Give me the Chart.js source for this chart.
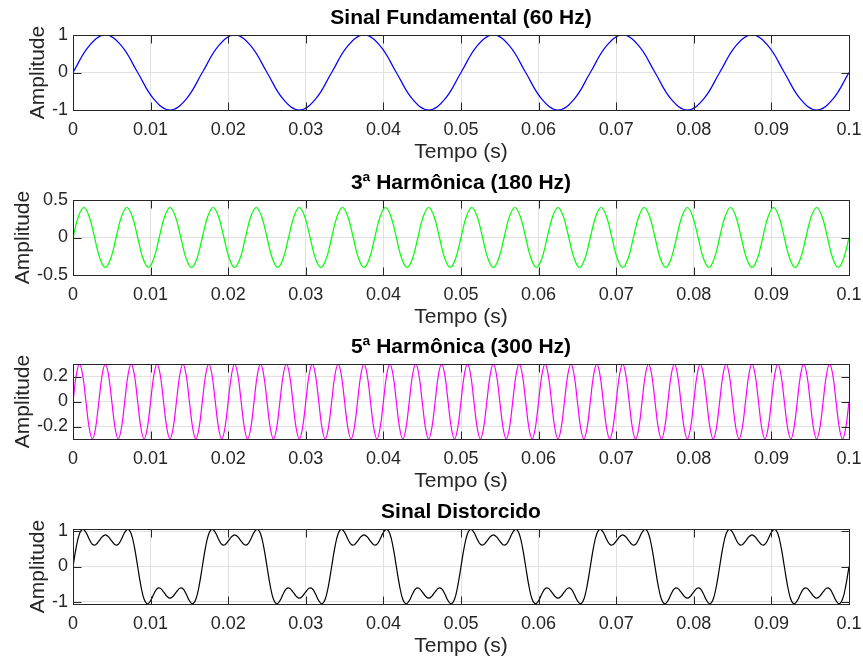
<!DOCTYPE html>
<html>
<head>
<meta charset="utf-8">
<script src="https://cdn.jsdelivr.net/npm/chart.js@4.4.1/dist/chart.umd.min.js"></script>
<style>
  html, body { margin: 0; padding: 0; background: #ffffff; }
  body { width: 863px; height: 661px; position: relative; overflow: hidden; }
  .panel { position: absolute; left: 0; width: 863px; height: 165px; }
  canvas { display: block; }
</style>
</head>
<body>
<div class="panel" style="top:0px"><canvas id="c1" width="863" height="165"></canvas></div>
<div class="panel" style="top:165px"><canvas id="c2" width="863" height="165"></canvas></div>
<div class="panel" style="top:329px"><canvas id="c3" width="863" height="165"></canvas></div>
<div class="panel" style="top:494px"><canvas id="c4" width="863" height="165"></canvas></div>
<script>
// ---------------- DATA ----------------
const titles = ['Sinal Fundamental (60 Hz)', '3ª Harmônica (180 Hz)', '5ª Harmônica (300 Hz)', 'Sinal Distorcido'];
const xAxisLabel = 'Tempo (s)';
const yAxisLabel = 'Amplitude';

const xTickValues = [0, 0.01, 0.02, 0.03, 0.04, 0.05, 0.06, 0.07, 0.08, 0.09, 0.1];
const xTickLabels = ['0', '0.01', '0.02', '0.03', '0.04', '0.05', '0.06', '0.07', '0.08', '0.09', '0.1'];

const fundamentalYTicks = [-1, 0, 1];
const fundamentalYLabels = ['-1', '0', '1'];
const thirdYTicks = [-0.5, 0, 0.5];
const thirdYLabels = ['-0.5', '0', '0.5'];
const fifthYTicks = [-0.2, 0, 0.2];
const fifthYLabels = ['-0.2', '0', '0.2'];
const distortedYTicks = [-1, 0, 1];
const distortedYLabels = ['-1', '0', '1'];

const yLimits = [[-1, 1], [-0.5, 0.5], [-0.3, 0.3], [-1.065, 1.065]];

// sample spacing (s) of each series
const fundamentalStep = 0.1 / 48;
const thirdStep = 0.1 / 144;
const fifthStep = 0.1 / 240;
const distortedStep = 0.1 / 240;

const fundamentalValues = [
  0, 0.71, 1, 0.71, 0, -0.71, -1, -0.71,
  0, 0.71, 1, 0.71, 0, -0.71, -1, -0.71,
  0, 0.71, 1, 0.71, 0, -0.71, -1, -0.71,
  0, 0.71, 1, 0.71, 0, -0.71, -1, -0.71,
  0, 0.71, 1, 0.71, 0, -0.71, -1, -0.71,
  0, 0.71, 1, 0.71, 0, -0.71, -1, -0.71,
  0
];

const thirdValues = [
  0, 0.28, 0.4, 0.28, 0, -0.28, -0.4, -0.28,
  0, 0.28, 0.4, 0.28, 0, -0.28, -0.4, -0.28,
  0, 0.28, 0.4, 0.28, 0, -0.28, -0.4, -0.28,
  0, 0.28, 0.4, 0.28, 0, -0.28, -0.4, -0.28,
  0, 0.28, 0.4, 0.28, 0, -0.28, -0.4, -0.28,
  0, 0.28, 0.4, 0.28, 0, -0.28, -0.4, -0.28,
  0, 0.28, 0.4, 0.28, 0, -0.28, -0.4, -0.28,
  0, 0.28, 0.4, 0.28, 0, -0.28, -0.4, -0.28,
  0, 0.28, 0.4, 0.28, 0, -0.28, -0.4, -0.28,
  0, 0.28, 0.4, 0.28, 0, -0.28, -0.4, -0.28,
  0, 0.28, 0.4, 0.28, 0, -0.28, -0.4, -0.28,
  0, 0.28, 0.4, 0.28, 0, -0.28, -0.4, -0.28,
  0, 0.28, 0.4, 0.28, 0, -0.28, -0.4, -0.28,
  0, 0.28, 0.4, 0.28, 0, -0.28, -0.4, -0.28,
  0, 0.28, 0.4, 0.28, 0, -0.28, -0.4, -0.28,
  0, 0.28, 0.4, 0.28, 0, -0.28, -0.4, -0.28,
  0, 0.28, 0.4, 0.28, 0, -0.28, -0.4, -0.28,
  0, 0.28, 0.4, 0.28, 0, -0.28, -0.4, -0.28,
  0
];

const fifthValues = [
  0, 0.21, 0.3, 0.21, 0, -0.21, -0.3, -0.21,
  0, 0.21, 0.3, 0.21, 0, -0.21, -0.3, -0.21,
  0, 0.21, 0.3, 0.21, 0, -0.21, -0.3, -0.21,
  0, 0.21, 0.3, 0.21, 0, -0.21, -0.3, -0.21,
  0, 0.21, 0.3, 0.21, 0, -0.21, -0.3, -0.21,
  0, 0.21, 0.3, 0.21, 0, -0.21, -0.3, -0.21,
  0, 0.21, 0.3, 0.21, 0, -0.21, -0.3, -0.21,
  0, 0.21, 0.3, 0.21, 0, -0.21, -0.3, -0.21,
  0, 0.21, 0.3, 0.21, 0, -0.21, -0.3, -0.21,
  0, 0.21, 0.3, 0.21, 0, -0.21, -0.3, -0.21,
  0, 0.21, 0.3, 0.21, 0, -0.21, -0.3, -0.21,
  0, 0.21, 0.3, 0.21, 0, -0.21, -0.3, -0.21,
  0, 0.21, 0.3, 0.21, 0, -0.21, -0.3, -0.21,
  0, 0.21, 0.3, 0.21, 0, -0.21, -0.3, -0.21,
  0, 0.21, 0.3, 0.21, 0, -0.21, -0.3, -0.21,
  0, 0.21, 0.3, 0.21, 0, -0.21, -0.3, -0.21,
  0, 0.21, 0.3, 0.21, 0, -0.21, -0.3, -0.21,
  0, 0.21, 0.3, 0.21, 0, -0.21, -0.3, -0.21,
  0, 0.21, 0.3, 0.21, 0, -0.21, -0.3, -0.21,
  0, 0.21, 0.3, 0.21, 0, -0.21, -0.3, -0.21,
  0, 0.21, 0.3, 0.21, 0, -0.21, -0.3, -0.21,
  0, 0.21, 0.3, 0.21, 0, -0.21, -0.3, -0.21,
  0, 0.21, 0.3, 0.21, 0, -0.21, -0.3, -0.21,
  0, 0.21, 0.3, 0.21, 0, -0.21, -0.3, -0.21,
  0, 0.21, 0.3, 0.21, 0, -0.21, -0.3, -0.21,
  0, 0.21, 0.3, 0.21, 0, -0.21, -0.3, -0.21,
  0, 0.21, 0.3, 0.21, 0, -0.21, -0.3, -0.21,
  0, 0.21, 0.3, 0.21, 0, -0.21, -0.3, -0.21,
  0, 0.21, 0.3, 0.21, 0, -0.21, -0.3, -0.21,
  0, 0.21, 0.3, 0.21, 0, -0.21, -0.3, -0.21,
  0
];

const distortedValues = [
  0, 0.55, 0.93, 1.06, 0.97, 0.78, 0.63, 0.62, 0.72, 0.84, 0.9, 0.84, 0.72, 0.62, 0.63, 0.78, 0.97, 1.06, 0.93, 0.55,
  0, -0.55, -0.93, -1.06, -0.97, -0.78, -0.63, -0.62, -0.72, -0.84, -0.9, -0.84, -0.72, -0.62, -0.63, -0.78, -0.97, -1.06, -0.93, -0.55,
  0, 0.55, 0.93, 1.06, 0.97, 0.78, 0.63, 0.62, 0.72, 0.84, 0.9, 0.84, 0.72, 0.62, 0.63, 0.78, 0.97, 1.06, 0.93, 0.55,
  0, -0.55, -0.93, -1.06, -0.97, -0.78, -0.63, -0.62, -0.72, -0.84, -0.9, -0.84, -0.72, -0.62, -0.63, -0.78, -0.97, -1.06, -0.93, -0.55,
  0, 0.55, 0.93, 1.06, 0.97, 0.78, 0.63, 0.62, 0.72, 0.84, 0.9, 0.84, 0.72, 0.62, 0.63, 0.78, 0.97, 1.06, 0.93, 0.55,
  0, -0.55, -0.93, -1.06, -0.97, -0.78, -0.63, -0.62, -0.72, -0.84, -0.9, -0.84, -0.72, -0.62, -0.63, -0.78, -0.97, -1.06, -0.93, -0.55,
  0, 0.55, 0.93, 1.06, 0.97, 0.78, 0.63, 0.62, 0.72, 0.84, 0.9, 0.84, 0.72, 0.62, 0.63, 0.78, 0.97, 1.06, 0.93, 0.55,
  0, -0.55, -0.93, -1.06, -0.97, -0.78, -0.63, -0.62, -0.72, -0.84, -0.9, -0.84, -0.72, -0.62, -0.63, -0.78, -0.97, -1.06, -0.93, -0.55,
  0, 0.55, 0.93, 1.06, 0.97, 0.78, 0.63, 0.62, 0.72, 0.84, 0.9, 0.84, 0.72, 0.62, 0.63, 0.78, 0.97, 1.06, 0.93, 0.55,
  0, -0.55, -0.93, -1.06, -0.97, -0.78, -0.63, -0.62, -0.72, -0.84, -0.9, -0.84, -0.72, -0.62, -0.63, -0.78, -0.97, -1.06, -0.93, -0.55,
  0, 0.55, 0.93, 1.06, 0.97, 0.78, 0.63, 0.62, 0.72, 0.84, 0.9, 0.84, 0.72, 0.62, 0.63, 0.78, 0.97, 1.06, 0.93, 0.55,
  0, -0.55, -0.93, -1.06, -0.97, -0.78, -0.63, -0.62, -0.72, -0.84, -0.9, -0.84, -0.72, -0.62, -0.63, -0.78, -0.97, -1.06, -0.93, -0.55,
  0
];

// ---------------- STYLE ----------------
const FONT = '"Liberation Sans", Arial, Helvetica, sans-serif';
const AXIS_COLOR = '#262626';
const GRID_COLOR = '#e1e1e1';
const TICK_LEN = 8;

// centre the title over the plot box (as MATLAB does) instead of the canvas
const titleCenterPlugin = {
  id: 'titleOverPlot',
  afterLayout(chart) {
    const tb = chart.titleBlock;
    if (tb) {
      tb.left = chart.chartArea.left;
      tb.right = chart.chartArea.right;
      tb.width = tb.right - tb.left;
    }
  }
};

const boxPlugin = {
  id: 'matlabBox',
  afterDatasetsDraw(chart) {
    const { ctx, chartArea: a, scales } = chart;
    const xs = scales.x, ys = scales.y;
    const L = Math.round(a.left) + 0.5, R = Math.round(a.right) + 0.5;
    const T = Math.round(a.top) + 0.5, B = Math.round(a.bottom) + 0.5;
    ctx.save();
    ctx.strokeStyle = AXIS_COLOR;
    ctx.lineWidth = 1;
    ctx.beginPath();
    xs.ticks.forEach(t => {
      const px = Math.round(xs.getPixelForValue(t.value)) + 0.5;
      ctx.moveTo(px, B); ctx.lineTo(px, B - TICK_LEN);
      ctx.moveTo(px, T); ctx.lineTo(px, T + TICK_LEN);
    });
    ys.ticks.forEach(t => {
      const py = Math.round(ys.getPixelForValue(t.value)) + 0.5;
      ctx.moveTo(L, py); ctx.lineTo(L + TICK_LEN, py);
      ctx.moveTo(R, py); ctx.lineTo(R - TICK_LEN, py);
    });
    ctx.stroke();
    ctx.strokeRect(L, T, R - L, B - T);
    ctx.restore();
  }
};

function toPoints(values, step) {
  return values.map((v, i) => ({ x: i * step, y: v }));
}

function makeChart(id, title, values, step, color, limits, yTicks, yLabels, yTitlePad) {
  new Chart(document.getElementById(id), {
    type: 'line',
    data: {
      datasets: [{
        data: toPoints(values, step),
        borderColor: color,
        borderWidth: 1.2,
        pointRadius: 0,
        tension: 0.4,
        fill: false
      }]
    },
    options: {
      responsive: false,
      animation: false,
      devicePixelRatio: 1,
      layout: { padding: { left: 0, right: 0, top: 0, bottom: 0 } },
      plugins: {
        legend: { display: false },
        tooltip: { enabled: false },
        title: {
          display: true,
          text: title,
          color: '#000000',
          font: { family: FONT, size: 21, weight: 'bold', lineHeight: 1.2 },
          padding: { top: 5.9, bottom: 3.9 }
        }
      },
      scales: {
        x: {
          type: 'linear',
          min: 0,
          max: 0.1,
          afterBuildTicks: s => { s.ticks = xTickValues.map(v => ({ value: v })); },
          afterFit: s => { s.height = 55; s.paddingRight = 14; s.paddingLeft = 0; },
          ticks: {
            autoSkip: false,
            maxRotation: 0,
            padding: 9,
            color: AXIS_COLOR,
            font: { family: FONT, size: 18 },
            callback: (v, i) => xTickLabels[i]
          },
          grid: { color: GRID_COLOR, lineWidth: 1, drawTicks: false },
          border: { display: false },
          title: {
            display: true,
            text: xAxisLabel,
            color: AXIS_COLOR,
            font: { family: FONT, size: 21, lineHeight: 1.2 },
            padding: { top: 0, bottom: 0 }
          }
        },
        y: {
          type: 'linear',
          min: limits[0],
          max: limits[1],
          afterBuildTicks: s => { s.ticks = yTicks.map(v => ({ value: v })); },
          afterFit: s => { s.width = 73; },
          ticks: {
            padding: 5,
            color: AXIS_COLOR,
            font: { family: FONT, size: 18 },
            callback: (v, i) => yLabels[i]
          },
          grid: { color: GRID_COLOR, lineWidth: 1, drawTicks: false },
          border: { display: false },
          title: {
            display: true,
            text: yAxisLabel,
            color: AXIS_COLOR,
            font: { family: FONT, size: 21, lineHeight: 1.2 },
            padding: { top: yTitlePad, bottom: 0 }
          }
        }
      }
    },
    plugins: [titleCenterPlugin, boxPlugin]
  });
}

makeChart('c1', titles[0], fundamentalValues, fundamentalStep, '#0000ff', yLimits[0], fundamentalYTicks, fundamentalYLabels, 25.5);
makeChart('c2', titles[1], thirdValues, thirdStep, '#00ff00', yLimits[1], thirdYTicks, thirdYLabels, 10.5);
makeChart('c3', titles[2], fifthValues, fifthStep, '#ff00ff', yLimits[2], fifthYTicks, fifthYLabels, 10.5);
makeChart('c4', titles[3], distortedValues, distortedStep, '#000000', yLimits[3], distortedYTicks, distortedYLabels, 25.5);
</script>
</body>
</html>
